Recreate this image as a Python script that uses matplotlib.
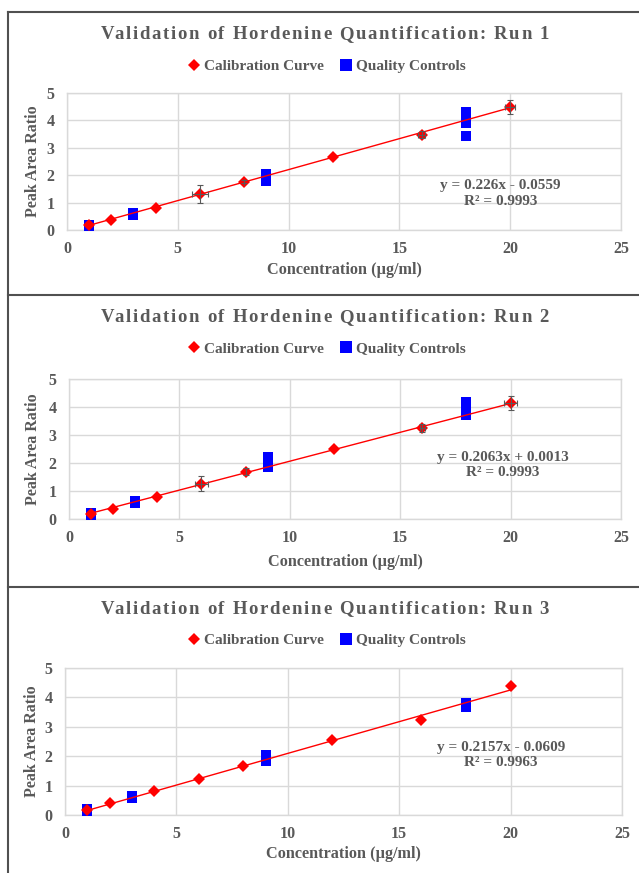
import matplotlib
matplotlib.use("Agg")
import matplotlib.pyplot as plt
from matplotlib.lines import Line2D

W, H = 639, 873
GRAY = "#595959"
GRID = "#d9d9d9"
plt.rcParams['font.family'] = ['Liberation Serif', 'DejaVu Serif']
plt.rcParams['font.weight'] = 'bold'

# calibration standards (µg/ml) and peak area ratios per run
cal_x = [1, 2, 4, 6, 8, 12, 16, 20]
cal_y1 = [0.17, 0.36, 0.79, 1.33, 1.76, 2.67, 3.48, 4.49]
cal_y2 = [0.18, 0.37, 0.79, 1.26, 1.69, 2.49, 3.25, 4.15]
cal_y3 = [0.17, 0.40, 0.82, 1.22, 1.65, 2.56, 3.22, 4.40]

# error bars (run 1 and 2 only)
err_x = [6, 8, 16, 20]
err_y1 = [1.33, 1.76, 3.48, 4.49]
err_yv1 = [0.33, 0.05, 0.13, 0.24]
err_xv1 = [0.35, 0.0, 0.15, 0.22]
err_y2 = [1.26, 1.69, 3.25, 4.15]
err_yv2 = [0.26, 0.13, 0.15, 0.26]
err_xv2 = [0.28, 0.0, 0.12, 0.28]

# quality controls
qc_x1 = [1, 1, 3, 3, 9, 9, 9, 18, 18, 18, 18]
qc_y1 = [0.15, 0.19, 0.55, 0.61, 1.80, 1.92, 2.04, 3.92, 4.10, 4.30, 3.43]
qc_x2 = [1, 1, 3, 3, 9, 9, 9, 18, 18, 18]
qc_y2 = [0.16, 0.20, 0.56, 0.64, 1.85, 2.05, 2.22, 3.72, 3.95, 4.17]
qc_x3 = [1, 1, 3, 3, 9, 9, 9, 18, 18]
qc_y3 = [0.15, 0.20, 0.57, 0.65, 1.82, 1.95, 2.05, 3.68, 3.80]

slopes = [0.226, 0.2063, 0.2157]
intercepts = [-0.0559, 0.0013, -0.0609]
eq_texts = ["y = 0.226x - 0.0559\nR² = 0.9993",
            "y = 0.2063x + 0.0013\nR² = 0.9993",
            "y = 0.2157x - 0.0609\nR² = 0.9963"]
titles = ["Validation of Hordenine Quantification: Run 1",
          "Validation of Hordenine Quantification: Run 2",
          "Validation of Hordenine Quantification: Run 3"]

fig = plt.figure(figsize=(W / 100, H / 100), dpi=100)
renderer = fig.canvas.get_renderer()


def spaced_title(text, xc, ybase, target_w, size):
    kw = dict(fontsize=size, fontweight='bold', color=GRAY)

    def width(s):
        t = fig.text(0, 0, s, **kw)
        w = t.get_window_extent(renderer).width
        t.remove()
        return w

    full = width(text)
    sp = (target_w - full) / (len(text) - 1)
    x0 = xc - target_w / 2
    for i, ch in enumerate(text):
        if ch == ' ':
            continue
        left = width(text[:i + 1]) - width(ch)
        fig.text((x0 + left + i * sp) / W, 1 - ybase / H, ch,
                 ha='left', va='baseline', **kw)


# panel frame lines
def fig_line(xs, ys):
    fig.add_artist(Line2D([x / W for x in xs], [1 - y / H for y in ys],
                          color="#505050", lw=1.5))


fig_line([7.5, 7.5], [12, H])
for yl in [12, 295, 586.5]:
    fig_line([7.5, W], [yl, yl])

# axes boxes in pixels: left, right, top, bottom
boxes = [(67, 621, 93, 230), (69, 621, 379, 519), (65, 622, 668, 815)]
panel_tops = [12, 295, 586.5]
xlab_off = [32, 35, 31]
ylab_off = [26, 28, 25]
eq_pos = [(0.782, 0.266), (0.786, 0.386), (0.783, 0.408)]
cal_ys = [cal_y1, cal_y2, cal_y3]
qc_xs = [qc_x1, qc_x2, qc_x3]
qc_ys = [qc_y1, qc_y2, qc_y3]
errs = [(err_y1, err_xv1, err_yv1), (err_y2, err_xv2, err_yv2), None]

for k in range(3):
    l, r, t, b = boxes[k]
    ax = fig.add_axes([l / W, 1 - b / H, (r - l) / W, (b - t) / H])
    ax.set_xlim(0, 25)
    ax.set_ylim(0, 5)
    ax.set_xticks([0, 5, 10, 15, 20, 25])
    ax.set_yticks([0, 1, 2, 3, 4, 5])
    ax.grid(True, color=GRID, lw=1)
    ax.set_axisbelow(True)
    for s in ax.spines.values():
        s.set_color(GRID)
        s.set_linewidth(1)
    ax.tick_params(length=0, labelsize=11.5, labelcolor=GRAY)
    ax.tick_params(axis='x', pad=8)
    ax.tick_params(axis='y', pad=9)
    for lab in ax.get_xticklabels() + ax.get_yticklabels():
        lab.set_fontweight('bold')

    ax.plot(qc_xs[k], qc_ys[k], 's', color='#0000ff', ms=7.2, mew=0, zorder=3)
    xs_line = [min(cal_x), max(cal_x)]
    ax.plot(xs_line, [slopes[k] * x + intercepts[k] for x in xs_line],
            color='#ff0000', lw=1, zorder=4)
    ax.plot(cal_x, cal_ys[k], 'D', color='#ff0000', ms=6.5, mew=0, zorder=5)
    if errs[k] is not None:
        ey, exv, eyv = errs[k]
        ax.errorbar(err_x, ey, xerr=exv, yerr=eyv, fmt='none', ecolor=GRAY,
                    elinewidth=0.8, capsize=2.5, capthick=0.8, zorder=6)

    ax.text(eq_pos[k][0], eq_pos[k][1], eq_texts[k], transform=ax.transAxes,
            ha='center', va='center', fontsize=11, fontweight='bold',
            color=GRAY, linespacing=1.25)

    ax.set_xlabel("Concentration (µg/ml)", fontsize=11.7, fontweight='bold',
                  color=GRAY)
    ax.set_ylabel("Peak Area Ratio", fontsize=11.5, fontweight='bold',
                  color=GRAY)
    ax.xaxis.set_label_coords(0.5, -(xlab_off[k] / (b - t)))
    ax.yaxis.set_label_coords(-(ylab_off[k] / (r - l)), 0.5)

    top = panel_tops[k]
    spaced_title(titles[k], 325, top + 27, 448, 13.5)

    handles = [Line2D([], [], ls='none', marker='D', color='#ff0000', ms=6.5, mew=0),
               Line2D([], [], ls='none', marker='s', color='#0000ff', ms=8, mew=0)]
    fig.legend(handles, ["Calibration Curve", "Quality Controls"],
               loc='center', bbox_to_anchor=(327 / W, 1 - (top + 54) / H),
               ncol=2, frameon=False, handlelength=0.7, handletextpad=0.3,
               columnspacing=1.1, prop={'size': 11, 'weight': 'bold'},
               labelcolor=GRAY)

fig.savefig("out.png", dpi=100)
